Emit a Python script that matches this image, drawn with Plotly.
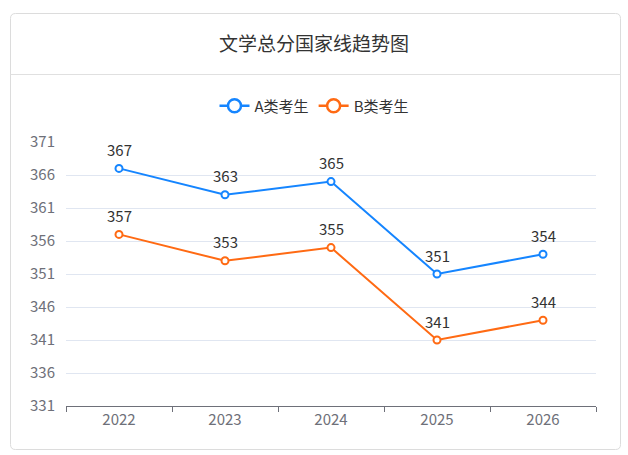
import plotly.graph_objects as go

years = ["2022", "2023", "2024", "2025", "2026"]
series_a = [367, 363, 365, 351, 354]
series_b = [357, 353, 355, 341, 344]
name_a = "A类考生"
name_b = "B类考生"
title = "文学总分国家线趋势图"
y_ticks = [331, 336, 341, 346, 351, 356, 361, 366, 371]

blue = "#1585FF"
orange = "#FF6A13"
font = "Noto Sans CJK SC, Noto Sans, sans-serif"

W, H = 628, 455
L, R, T, B = 66, 32, 142, 49
pw, ph = W - L - R, H - T - B

def px(x):
    return (x - L) / pw

def py(y):
    return (H - B - y) / ph

fig = go.Figure()
for name, vals, col in [(name_a, series_a, blue), (name_b, series_b, orange)]:
    fig.add_trace(go.Scatter(
        x=years, y=vals, mode="lines+markers", name=name,
        line=dict(color=col, width=2),
        marker=dict(size=7, color="white", line=dict(color=col, width=2)),
        showlegend=False, cliponaxis=False,
    ))
    fig.add_trace(go.Scatter(
        x=[None], y=[None], mode="lines+markers", name=name,
        line=dict(color=col, width=2.5),
        marker=dict(size=13, color="white", line=dict(color=col, width=2.5)),
    ))
    for i, yv in enumerate(vals):
        fig.add_annotation(x=i, y=yv, xref="x", yref="y", text=str(yv), showarrow=False,
                           yshift=19, font=dict(size=15, color="#333333", family=font))

# card
x0, x1, y0, y1, r = px(10.5), px(620.5), py(13.5), py(449.5), 5
rx, ry = r / pw, r / ph
path = (f"M {x0+rx},{y0} L {x1-rx},{y0} Q {x1},{y0} {x1},{y0-ry} "
        f"L {x1},{y1+ry} Q {x1},{y1} {x1-rx},{y1} L {x0+rx},{y1} "
        f"Q {x0},{y1} {x0},{y1+ry} L {x0},{y0-ry} Q {x0},{y0} {x0+rx},{y0} Z")
fig.add_shape(type="path", path=path, xref="paper", yref="paper",
              line=dict(color="#DCDCDC", width=1), fillcolor="rgba(0,0,0,0)", layer="below")
fig.add_shape(type="line", xref="paper", yref="paper", x0=x0, x1=x1, y0=py(74.5), y1=py(74.5),
              line=dict(color="#E0E0E0", width=1))

fig.update_layout(
    width=W, height=H,
    margin=dict(l=L, r=R, t=T, b=B),
    paper_bgcolor="white", plot_bgcolor="white",
    font=dict(family=font, color="#6E7079", size=15),
    title=dict(text=title, x=0.5, xanchor="center", y=1 - 44 / H, yanchor="middle",
               font=dict(size=19, color="#333333", family=font)),
    legend=dict(orientation="h", x=px(314), xanchor="center", y=py(106), yanchor="middle",
                font=dict(size=15, color="#333333", family=font), itemwidth=30,
                bgcolor="rgba(0,0,0,0)"),
    xaxis=dict(type="category", categoryorder="array", categoryarray=years,
               range=[-0.5, 4.5], showline=True, linecolor="#6E7079",
               linewidth=1, ticks="outside", tickson="boundaries", ticklen=5,
               tickcolor="#6E7079", showgrid=False, tickfont=dict(size=15, color="#6E7079"),
               fixedrange=True),
    yaxis=dict(range=[331, 371], tickvals=y_ticks, showgrid=True, gridcolor="#E0E6F1",
               gridwidth=1, zeroline=False, showline=False, ticks="", ticklabelstandoff=10,
               tickfont=dict(size=15, color="#6E7079"), fixedrange=True),
)

fig.write_html("out.html")
